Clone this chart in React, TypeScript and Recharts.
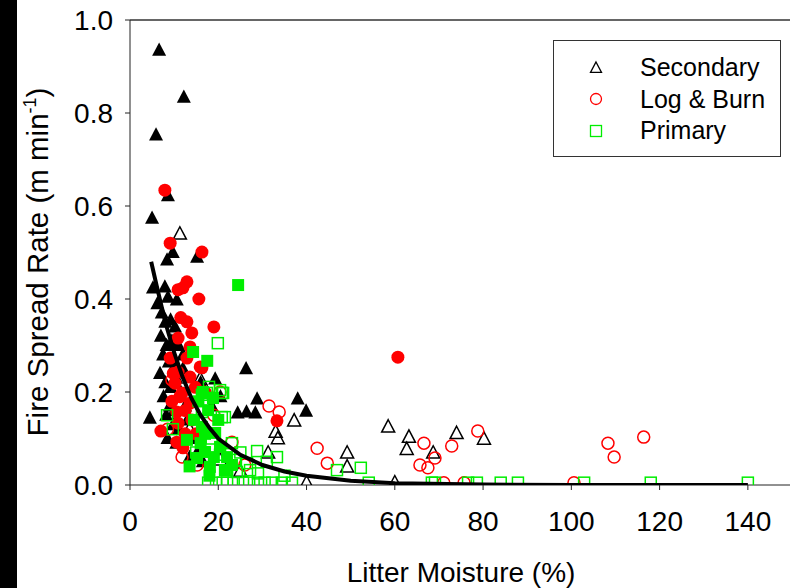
import { Scatter, ScatterChart, XAxis, YAxis, ReferenceLine } from "recharts";

// [litter moisture %, spread rate m/min]
const secondaryFilled = [
  [6.6, 0.935], [12.2, 0.834], [5.9, 0.753], [8.6, 0.622], [5.0, 0.574], [9.7, 0.5], [8.4, 0.484],
  [15.2, 0.49], [5.2, 0.424], [7.9, 0.426], [8.6, 0.404], [10.6, 0.398], [6.2, 0.39], [7.2, 0.37],
  [8.0, 0.35], [9.2, 0.355], [10.2, 0.34], [7.0, 0.32], [8.3, 0.3], [9.5, 0.31], [11.0, 0.3],
  [7.5, 0.28], [8.8, 0.265], [10.3, 0.26], [12.0, 0.25], [6.8, 0.24], [8.0, 0.22], [9.2, 0.21],
  [10.5, 0.23], [11.5, 0.2], [7.6, 0.19], [9.0, 0.17], [10.0, 0.16], [12.5, 0.17], [8.2, 0.15],
  [9.8, 0.13], [11.0, 0.12], [13.0, 0.14], [8.5, 0.1], [10.5, 0.09], [14.0, 0.1], [15.5, 0.075],
  [4.5, 0.144], [16, 0.22], [17.5, 0.2], [19.3, 0.228], [26.3, 0.25], [24.4, 0.155], [26.4, 0.157],
  [28.4, 0.155], [28.8, 0.185], [38, 0.185], [39.9, 0.159], [20.5, 0.19], [18.5, 0.17], [13.5, 0.06],
  [16.5, 0.05], [12, 0.28],
];
const secondaryOpen = [
  [11.3, 0.54], [15.9, 0.228], [20.4, 0.054], [33, 0.114], [33.5, 0.1], [37.2, 0.138], [31.3, 0.069],
  [40, 0.005], [58.5, 0.125], [63.2, 0.103], [62.7, 0.077], [49.2, 0.069], [49.2, 0.039], [74, 0.111],
  [80.2, 0.099], [68.7, 0.069], [60, 0.005], [13.5, 0.12], [25, 0.03],
];
const logBurnFilled = [
  [7.9, 0.634], [9.1, 0.52], [16.3, 0.501], [12.9, 0.437], [10.9, 0.42], [12, 0.424], [15.6, 0.4],
  [12.9, 0.351], [19, 0.34], [14, 0.327], [10.9, 0.316], [13.6, 0.297], [9.1, 0.273], [12.9, 0.273],
  [15.9, 0.254], [10.9, 0.243], [13.6, 0.232], [10.2, 0.219], [11.8, 0.198], [7, 0.116], [11.3, 0.19],
  [10.6, 0.157], [10.9, 0.133], [10.6, 0.092], [12, 0.08], [13.6, 0.176], [14, 0.14], [60.7, 0.275],
  [33.3, 0.138], [16.3, 0.252], [9.5, 0.18], [12.5, 0.16], [14.8, 0.21], [15, 0.11], [12.5, 0.11],
  [9.8, 0.24], [11.5, 0.36], [17, 0.2],
];
const logBurnOpen = [
  [9.5, 0.226], [11.8, 0.06], [15.2, 0.043], [20.4, 0.2], [23.1, 0.092], [26, 0.043], [31.5, 0.17],
  [33.8, 0.157], [42.4, 0.079], [44.7, 0.047], [66.6, 0.09], [72.9, 0.084], [78.8, 0.116], [65.7, 0.043],
  [67.5, 0.037], [69.1, 0.058], [71.1, 0.005], [75.7, 0.005], [108.3, 0.09], [109.7, 0.06],
  [116.4, 0.103], [100.6, 0.005], [8.5, 0.12], [19, 0.15],
];
const primaryFilled = [
  [24.5, 0.43], [14.3, 0.286], [17.5, 0.267], [12.9, 0.097], [15.2, 0.058], [17, 0.071], [17.7, 0.161],
  [16.3, 0.125], [19.3, 0.112], [18.1, 0.039], [21.5, 0.032], [20.4, 0.082], [18.8, 0.187], [23.1, 0.043],
  [14.5, 0.14], [16, 0.09], [19, 0.06], [17, 0.11], [15.5, 0.18], [20, 0.14], [13.5, 0.04], [18, 0.02],
  [22, 0.06], [16.5, 0.2],
];
const primaryOpen = [
  [19.9, 0.305], [17.9, 0.211], [20.4, 0.204], [21.1, 0.198], [16.3, 0.194], [8.4, 0.15], [9.7, 0.12],
  [20.8, 0.146], [16.3, 0.157], [28.8, 0.073], [33.3, 0.06], [31, 0.05], [26.5, 0.047], [23.8, 0.054],
  [24.2, 0.028], [27.2, 0.032], [22, 0.032], [20.4, 0.065], [23.1, 0.09], [21.5, 0.146], [20.8, 0.198],
  [17.4, 0.198], [46.9, 0.032], [52.3, 0.037], [15, 0.07], [18.5, 0.1], [25, 0.07], [29, 0.025], [35, 0.02],
  [17.7, 0.005], [19.5, 0.005], [21, 0.005], [22, 0.005], [23.5, 0.005], [25.6, 0.005], [27, 0.005],
  [29, 0.005], [30.5, 0.005], [32.2, 0.005], [34.4, 0.005], [36.7, 0.005], [54.1, 0.005], [68.4, 0.005],
  [69.1, 0.005], [76.6, 0.005], [78.6, 0.005], [84, 0.005], [87.9, 0.005], [102.9, 0.005], [118, 0.005],
  [140, 0.005],
];
// fitted decay curve
const fitCurve = [
  [4.8, 0.48], [6, 0.43], [8, 0.35], [10, 0.285], [12, 0.23], [14, 0.185], [16, 0.15], [18, 0.123],
  [20, 0.1], [25, 0.065], [30, 0.043], [35, 0.029], [40, 0.02], [50, 0.009], [60, 0.004], [80, 0.001],
  [100, 0], [140, 0],
];

const xTicks = [0, 20, 40, 60, 80, 100, 120, 140];
const yTicks = [0, 0.2, 0.4, 0.6, 0.8, 1.0];
const legendLabels = ["Secondary", "Log & Burn", "Primary"];

const toPts = (arr: number[][]) => arr.map(([x, y]) => ({ x, y }));

const FONT = "'Liberation Sans', Arial, sans-serif";
const GREEN = "#00ee00";

const triangle = (cx: number, cy: number, s: number) =>
  `M${cx},${cy - s * 0.55} L${cx + s / 2},${cy + s * 0.4} L${cx - s / 2},${cy + s * 0.4} Z`;

const TriFilled = (p: any) => <path d={triangle(p.cx, p.cy, 14)} fill="#000" />;
const TriOpen = (p: any) => <path d={triangle(p.cx, p.cy, 13)} fill="none" stroke="#000" strokeWidth={1.5} />;
const CircFilled = (p: any) => <circle cx={p.cx} cy={p.cy} r={6.5} fill="#ff0000" />;
const CircOpen = (p: any) => <circle cx={p.cx} cy={p.cy} r={6} fill="none" stroke="#ff0000" strokeWidth={1.5} />;
const SqFilled = (p: any) => <rect x={p.cx - 6} y={p.cy - 6} width={12} height={12} fill={GREEN} />;
const SqOpen = (p: any) => (
  <rect x={p.cx - 5.5} y={p.cy - 5.5} width={11} height={11} fill="none" stroke={GREEN} strokeWidth={1.5} />
);
const NoDot = () => <g />;

const YLabel = () => (
  <text
    transform="translate(48, 262) rotate(-90)"
    textAnchor="middle"
    fontFamily={FONT}
    fontSize={29.5}
    fill="#000"
  >
    Fire Spread Rate (m min
    <tspan fontSize={18} dy={-12}>-1</tspan>
    <tspan dy={12}>)</tspan>
  </text>
);

const legendIcons = [
  <path key="t" d={triangle(10, 10, 11)} fill="none" stroke="#000" strokeWidth={1.3} />,
  <circle key="c" cx={10} cy={10} r={5.5} fill="none" stroke="#ff0000" strokeWidth={1.3} />,
  <rect key="s" x={4.5} y={4.5} width={11} height={11} fill="none" stroke={GREEN} strokeWidth={1.3} />,
];

function LegendBox() {
  return (
    <div
      style={{
        position: "absolute",
        left: 553,
        top: 40,
        width: 228,
        height: 117,
        border: "1px solid #333",
        background: "#fff",
        boxSizing: "border-box",
        paddingTop: 11,
        fontFamily: FONT,
        fontSize: 25,
        lineHeight: "31px",
      }}
    >
      {legendLabels.map((label, i) => (
        <div key={label} style={{ display: "flex", alignItems: "center", height: 31.5 }}>
          <svg width={20} height={20} style={{ marginLeft: 32, marginRight: 34 }}>
            {legendIcons[i]}
          </svg>
          <span>{label}</span>
        </div>
      ))}
    </div>
  );
}

export default function App() {
  return (
    <div style={{ position: "absolute", left: 0, top: 0, width: 790, height: 588, overflow: "hidden", background: "#fff" }}>
      <div style={{ position: "absolute", left: 0, top: 0, width: 17, height: 588, background: "#000", zIndex: 2 }} />
      <ScatterChart width={800} height={588} margin={{ top: 20, right: 8, bottom: 0, left: 0 }}>
        <XAxis
          type="number"
          dataKey="x"
          domain={[0, 150]}
          ticks={xTicks}
          allowDataOverflow
          tick={{ fontSize: 28, fill: "#000", fontFamily: FONT }}
          tickSize={5}
          tickMargin={21}
          stroke="#222"
          height={103}
          label={{ value: "Litter Moisture (%)", position: "insideBottom", offset: 6, fontSize: 28, fill: "#000", fontFamily: FONT }}
        />
        <YAxis
          type="number"
          dataKey="y"
          domain={[0, 1]}
          ticks={yTicks}
          allowDataOverflow
          tickFormatter={(v: number) => v.toFixed(1)}
          tick={{ fontSize: 28, fill: "#000", fontFamily: FONT }}
          tickSize={5}
          tickMargin={12}
          stroke="#222"
          width={130}
          label={<YLabel />}
        />
        <ReferenceLine y={1} stroke="#333" strokeWidth={1.5} />
        <Scatter data={toPts(secondaryFilled)} shape={TriFilled} isAnimationActive={false} />
        <Scatter data={toPts(secondaryOpen)} shape={TriOpen} isAnimationActive={false} />
        <Scatter data={toPts(logBurnFilled)} shape={CircFilled} isAnimationActive={false} />
        <Scatter data={toPts(logBurnOpen)} shape={CircOpen} isAnimationActive={false} />
        <Scatter data={toPts(primaryFilled)} shape={SqFilled} isAnimationActive={false} />
        <Scatter data={toPts(primaryOpen)} shape={SqOpen} isAnimationActive={false} />
        <Scatter
          data={toPts(fitCurve)}
          shape={NoDot}
          line={{ stroke: "#000", strokeWidth: 4 }}
          lineType="joint"
          isAnimationActive={false}
        />
      </ScatterChart>
      <LegendBox />
    </div>
  );
}
